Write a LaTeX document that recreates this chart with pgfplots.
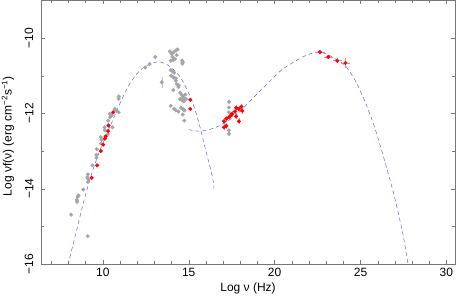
\documentclass[border=0pt]{standalone}
\usepackage{fontspec}
\setmainfont{Liberation Sans}
\usepackage{pgfplots}
\pgfplotsset{compat=1.18}
\definecolor{curveblue}{RGB}{95,95,235}
\definecolor{ptgray}{RGB}{165,165,165}
\definecolor{errgray}{RGB}{195,195,195}
\definecolor{errred}{RGB}{255,130,130}
\definecolor{axgray}{RGB}{120,120,120}
\begin{document}
\begin{tikzpicture}
\useasboundingbox (-41pt,-32pt) rectangle (422pt,264pt);
\begin{axis}[
  at={(0,0)}, anchor=south west,
  scale only axis, width=414pt, height=263.5pt,
  xmin=6.4, xmax=30.5, ymin=-16, ymax=-9,
  xtick={10,15,20,25,30}, minor xtick={7,8,...,30},
  ytick={-16,-14,-12,-10}, yticklabels={−16,−14,−12,−10},
  minor ytick={-15,-13,-11,-9},
  tick align=inside, major tick length=4pt, minor tick length=3pt,
  axis line style={axgray}, tick style={axgray, line width=0.4pt},
  every tick label/.append style={font=\fontsize{12}{14}\selectfont},
  yticklabel style={rotate=90, anchor=south, inner sep=0pt},
  yticklabel shift=7.5pt,
  xticklabel style={inner sep=0pt},
  xticklabel shift=4pt,
  xlabel={Log ν (Hz)},
  ylabel={Log νf(ν) (erg cm\textsuperscript{−2}s\textsuperscript{−1})},
  every axis x label/.style={at={(axis description cs:0.5,-0.105)}, anchor=base, font=\fontsize{12}{14}\selectfont},
  every axis y label/.style={at={(axis description cs:-0.0797,0.485)}, anchor=center, rotate=90, font=\fontsize{12}{14}\selectfont},
  /pgf/number format/assume math mode=true,
  clip=true,
]
% synchrotron model
\addplot[curveblue, line width=0.5pt, dash pattern=on 4pt off 3pt, smooth, tension=0.5] coordinates {
(7.90,-16.20) (7.99,-15.98) (8.38,-15.28) (8.86,-14.39) (9.35,-13.60) (9.83,-12.98)
(10.40,-12.37) (10.98,-11.75) (11.56,-11.22) (12.14,-10.87) (12.72,-10.69)
(13.29,-10.63) (13.87,-10.74) (14.45,-11.00) (14.84,-11.31) (15.22,-11.70)
(15.61,-12.28) (15.99,-12.98) (16.38,-13.69) (16.47,-14.00)
};
% inverse Compton model
\addplot[curveblue, line width=0.5pt, dash pattern=on 4pt off 3pt, smooth, tension=0.5] coordinates {
(14.99,-12.43) (15.32,-12.46) (15.61,-12.47) (16.09,-12.44) (16.57,-12.37)
(17.05,-12.26) (17.53,-12.12) (18.02,-11.94) (18.50,-11.70) (18.98,-11.48)
(19.46,-11.26) (19.94,-11.04) (20.42,-10.84) (20.91,-10.69) (21.39,-10.56)
(21.77,-10.47) (22.20,-10.40) (22.60,-10.37) (23.10,-10.44) (23.60,-10.57)
(24.09,-10.72) (24.66,-11.10) (25.24,-11.66) (25.82,-12.37) (26.40,-13.25)
(26.98,-14.22) (27.46,-15.19) (27.71,-15.85) (27.80,-16.10)
};
% archival (gray) data
\addplot[only marks, mark=*, mark size=1.8pt, color=ptgray,
  error bars/.cd, y dir=both, y explicit, x dir=both, x explicit,
  error bar style={errgray, line width=0.5pt}, error mark=none] coordinates {
(8.15,-14.69) (9.12,-15.26) (8.48,-14.30) (8.53,-14.22) (8.50,-14.35) (8.58,-14.18)
(8.86,-14.02) (9.10,-13.70) (9.13,-13.82) (9.16,-13.75) (9.13,-13.62) (9.40,-13.38)
(9.62,-13.10) (9.65,-12.95) (9.63,-13.18) (9.88,-12.63) (9.92,-12.70) (9.90,-12.80)
(10.10,-12.37) (10.12,-12.45) (10.31,-12.19) (10.30,-12.55) (10.40,-12.01) (10.42,-12.10)
(10.56,-12.37) (10.52,-12.05) (10.69,-11.88) (10.79,-11.93) (10.92,-11.61) (10.93,-11.55)
(10.92,-11.97)
(12.47,-10.78) (12.72,-10.69) (13.05,-10.50) (13.43,-11.17) +- (0,0.15)
(13.90,-10.35) (14.00,-10.42) (14.10,-10.38) (14.25,-10.33) (14.35,-10.30) (14.30,-10.45)
(14.05,-10.50) (13.95,-10.60) (14.10,-10.58) (14.20,-10.55)
(14.62,-10.60) (14.63,-10.68) (14.65,-10.64)
(13.95,-10.85) (14.05,-10.88) (14.15,-10.92) (13.98,-11.00) (14.12,-11.05) (14.25,-11.07)
(14.25,-11.13) (14.30,-11.22) (14.40,-11.30) (14.42,-11.25) (14.10,-11.38)
(14.50,-11.45) (14.58,-11.50) (14.65,-11.55) (14.72,-11.60) (14.50,-11.62) (14.60,-11.65)
(14.72,-11.68) (14.80,-11.50) (14.85,-11.62)
(13.95,-11.80) +- (0.08,0) (14.15,-11.88) +- (0.08,0) (14.25,-11.92) (14.40,-11.95) +- (0.08,0)
(14.55,-11.85) (14.65,-11.88) +- (0.08,0)
(14.75,-11.92) (14.74,-12.19) (14.65,-12.03)
(17.34,-11.69) +- (0,0.05) (17.34,-11.84) (17.34,-11.97) (17.34,-12.45) (17.34,-12.54) +- (0,0.05)
};
% simultaneous (red) data
\addplot[only marks, mark=*, mark size=1.8pt, color=red,
  error bars/.cd, y dir=both, y explicit, x dir=both, x explicit,
  error bar style={errred, line width=0.5pt}, error mark=none] coordinates {
(9.35,-13.71) (9.67,-13.38) (9.88,-13.00) (10.02,-12.83) (10.12,-12.67) (10.16,-12.61)
(10.31,-12.47) (10.33,-12.32) (10.60,-11.97)
(15.09,-11.64) (15.09,-11.88)
(17.05,-12.21) +- (0.05,0.08) (17.05,-12.37) +- (0.05,0.08) (17.19,-12.14) +- (0.05,0.08)
(17.19,-12.33) +- (0.05,0.08) (17.34,-12.10) +- (0.05,0.08) (17.44,-12.06) +- (0.05,0.08)
(17.53,-12.01) +- (0.05,0.08) (17.69,-11.95) +- (0.05,0.08) (17.76,-12.08) +- (0.05,0.08)
(17.76,-11.85) +- (0.05,0.08) (17.92,-11.88) +- (0.05,0.08) (17.92,-12.21) +- (0.05,0.08)
(18.07,-11.82) +- (0.05,0.08) (18.11,-11.93) +- (0.05,0.08)
(22.64,-10.37) +- (0.27,0.04) (23.12,-10.50) +- (0.27,0.05)
(23.64,-10.60) +- (0.27,0.07) (24.12,-10.66) +- (0.27,0.12)
};
\end{axis}
\end{tikzpicture}
\end{document}
